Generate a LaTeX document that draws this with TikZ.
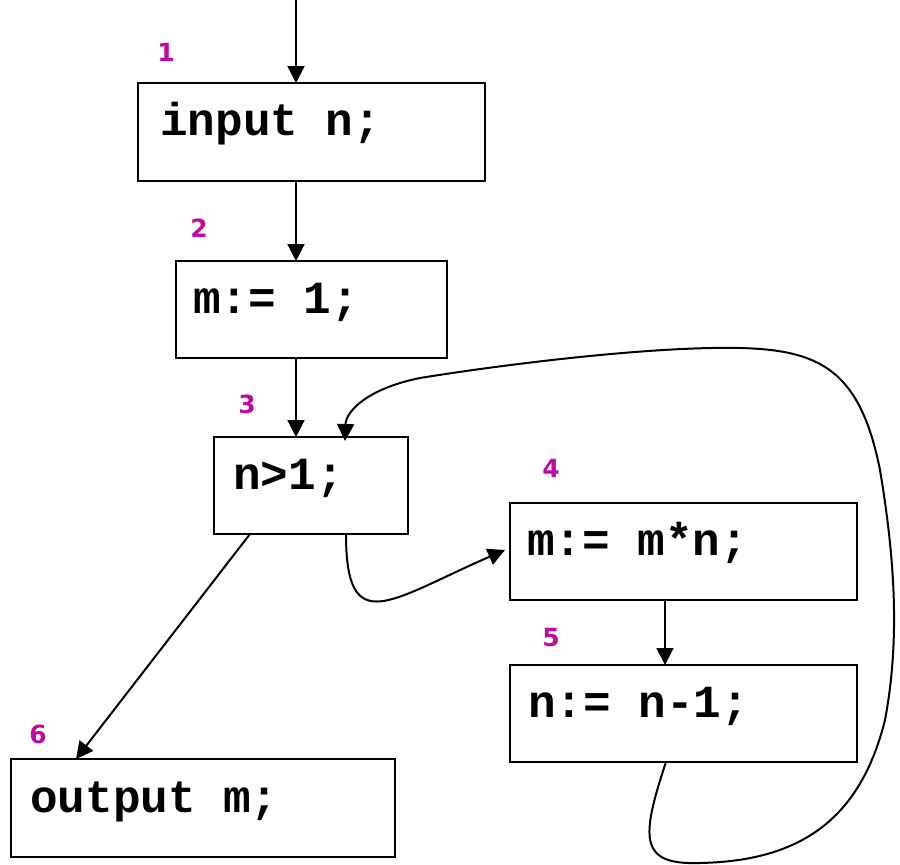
\documentclass[tikz,border=0pt]{standalone}
\usepackage{fontspec}
\setmonofont{Liberation Mono}
\newfontfamily\numfont{DejaVu Sans}
\usetikzlibrary{arrows.meta}
\definecolor{stepnum}{RGB}{190,10,160}
\begin{document}
\begin{tikzpicture}[x=1pt,y=-1pt,
  box/.style={draw=black,line width=2pt,rectangle,inner sep=0pt,outer sep=0pt},
  code/.style={anchor=base west,inner sep=0pt,font=\ttfamily\bfseries\fontsize{46}{50}\selectfont},
  num/.style={inner sep=0pt,text=stepnum,font=\numfont\bfseries\fontsize{25}{28}\selectfont},
  flow/.style={line width=2pt,-{Triangle[length=17pt,width=17pt]}}]
\useasboundingbox (0,0) rectangle (900,865);

% statement boxes
\node[box,minimum width=347pt,minimum height=98pt] (b1) at (311.5,132) {};
\node[box,minimum width=271pt,minimum height=97pt] (b2) at (311.5,309.5) {};
\node[box,minimum width=194pt,minimum height=97pt] (b3) at (311,485.5) {};
\node[box,minimum width=347pt,minimum height=97pt] (b4) at (683.5,551.5) {};
\node[box,minimum width=347pt,minimum height=97pt] (b5) at (683.5,713.5) {};
\node[box,minimum width=384pt,minimum height=98pt] (b6) at (203,808) {};

% statements
\node[code] (t1) at (160,135) {input n;};
\node[code] (t2) at (193,313) {m:= 1;};
\node[code] (t3) at (233,489) {n>1;};
\node[code] (t4) at (527,555) {m:= m*n;};
\node[code] (t5) at (528,717) {n:= n-1;};
\node[code] (t6) at (30,812) {output m;};

% statement numbers
\node[num] (n1) at (166,52) {1};
\node[num] (n2) at (199,228) {2};
\node[num] (n3) at (247,404) {3};
\node[num] (n4) at (551,468) {4};
\node[num] (n5) at (551,638) {5};
\node[num] (n6) at (38,734) {6};

% control flow
\coordinate (entry) at (296,0);
\draw[flow] (entry) -- ([xshift=158pt]b1.north west);
\draw[flow] ([xshift=158pt]b1.south west) -- ([xshift=120pt]b2.north west);
\draw[flow] ([xshift=120pt]b2.south west) -- ([xshift=82pt]b3.north west);
\draw[flow] ([xshift=132pt]b3.south west) .. controls +(0,106) and (390,600) .. ([xshift=-5pt,yshift=1.5pt]b4.west);
\draw[flow] ([xshift=155pt]b4.south west) -- ([xshift=155pt]b5.north west);
\draw[flow] ([xshift=36pt]b3.south west) -- ([xshift=65pt]b6.north west);
\draw[flow] ([xshift=156pt]b5.south west)
  .. controls (640,840) and (640,865) .. (700,863)
  .. controls (800,861) and (860,820) .. (885,720)
  .. controls (900,640) and (895,560) .. (880,470)
  .. controls (860,370) and (820,350) .. (740,348)
  .. controls (650,346) and (500,365) .. (420,378)
  .. controls (370,388) and (346,410) .. ([xshift=131pt,yshift=-4pt]b3.north west);
\end{tikzpicture}
\end{document}
